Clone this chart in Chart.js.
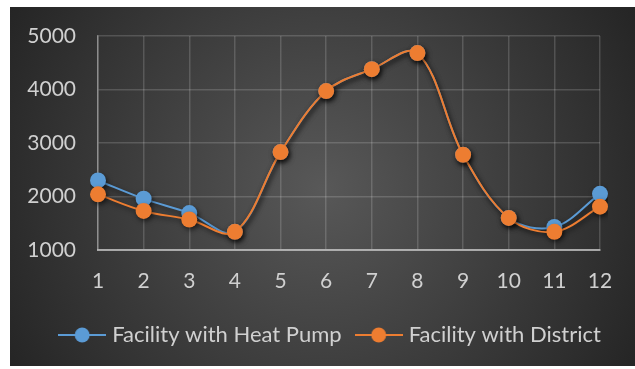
<!DOCTYPE html>
<html>
<head>
<meta charset="utf-8">
<script src="https://cdn.jsdelivr.net/npm/chart.js@4/dist/chart.umd.min.js"></script>
<style>
  html, body { margin: 0; padding: 0; background: #ffffff; }
  #wrap { width: 635px; height: 369px; }
</style>
</head>
<body>
<div id="wrap"><canvas id="chart" width="635" height="369"></canvas></div>
<script>
// Monthly consumption for the two facilities
const months = ['1', '2', '3', '4', '5', '6', '7', '8', '9', '10', '11', '12'];
const heatPump = [2300, 1960, 1690, 1340, 2830, 3970, 4380, 4680, 2780, 1600, 1430, 2050];
const district = [2040, 1730, 1570, 1340, 2830, 3970, 4380, 4680, 2780, 1600, 1340, 1810];
const yTicks = [1000, 2000, 3000, 4000, 5000];
const seriesNames = ['Facility with Heat Pump', 'Facility with District'];
const seriesColors = ['#5B9BD5', '#ED7D31'];

const FONT = { family: 'Lato, "Open Sans", sans-serif', size: 21 };
const LEGEND_FONT = { family: 'Lato, "Open Sans", sans-serif', size: 22 };
const TEXT = '#d0d0d0';

// Legend symbol: short line with a dot on it
function legendIcon(color) {
  const c = document.createElement('canvas');
  c.width = 48; c.height = 18;
  const g = c.getContext('2d');
  g.strokeStyle = color; g.lineWidth = 2;
  g.beginPath(); g.moveTo(0, 9); g.lineTo(48, 9); g.stroke();
  g.fillStyle = color;
  g.beginPath(); g.arc(24, 9, 7.5, 0, Math.PI * 2); g.fill();
  return c;
}
const icons = seriesColors.map(legendIcon);

// Dark panel with a soft radial light in the middle
const panelBackground = {
  id: 'panelBackground',
  beforeDraw(chart) {
    const ctx = chart.ctx;
    ctx.save();
    ctx.fillStyle = '#ffffff';
    ctx.fillRect(0, 0, chart.width, chart.height);
    const g = ctx.createRadialGradient(322, 188, 0, 322, 188, 360);
    g.addColorStop(0, '#585858');
    g.addColorStop(1, '#252525');
    ctx.fillStyle = g;
    ctx.fillRect(10, 7, 625, 359);
    ctx.restore();
  }
};

// Centre the legend under the whole panel rather than the padded box
const legendShift = {
  id: 'legendShift',
  afterLayout(chart) {
    const lg = chart.legend;
    if (lg) { lg.left += 32; lg.right += 32; }
  }
};

// Drop shadow under the series
const seriesShadow = {
  id: 'seriesShadow',
  beforeDatasetDraw(chart) {
    const ctx = chart.ctx;
    ctx.save();
    ctx.shadowColor = 'rgba(0,0,0,0.55)';
    ctx.shadowBlur = 5;
    ctx.shadowOffsetX = 1.5;
    ctx.shadowOffsetY = 2.5;
  },
  afterDatasetDraw(chart) {
    chart.ctx.restore();
  }
};

const series = [heatPump, district];
const datasets = series.map((values, i) => ({
  label: seriesNames[i],
  data: values,
  borderColor: seriesColors[i],
  backgroundColor: seriesColors[i],
  pointBackgroundColor: seriesColors[i],
  pointBorderColor: seriesColors[i],
  borderWidth: 2,
  pointRadius: 8,
  pointBorderWidth: 0,
  tension: 0.35,
  fill: false,
  order: i === 0 ? 1 : 0
}));

new Chart(document.getElementById('chart'), {
  type: 'line',
  data: { labels: months, datasets },
  plugins: [panelBackground, legendShift, seriesShadow],
  options: {
    responsive: false,
    animation: false,
    layout: { padding: { left: 0, right: 35, top: 36, bottom: 13 } },
    scales: {
      x: {
        type: 'category',
        offset: false,
        grid: { color: 'rgba(255,255,255,0.16)', lineWidth: 1.5, drawTicks: false },
        border: { color: 'rgba(200,200,200,0.75)', width: 2 },
        ticks: { color: TEXT, font: FONT, padding: 19, maxRotation: 0, autoSkip: false },
        afterFit(scale) { scale.height = 56; }
      },
      y: {
        min: 1000,
        max: 5000,
        grid: { color: 'rgba(255,255,255,0.16)', lineWidth: 1.5, drawTicks: false },
        border: { color: 'rgba(200,200,200,0.5)', width: 1.5 },
        ticks: { color: TEXT, font: FONT, padding: 22, callback: v => String(v) },
        afterBuildTicks(scale) { scale.ticks = yTicks.map(v => ({ value: v })); },
        afterFit(scale) { scale.width = 98; }
      }
    },
    plugins: {
      tooltip: { enabled: false },
      legend: {
        position: 'bottom',
        labels: {
          color: TEXT,
          font: LEGEND_FONT,
          usePointStyle: true,
          pointStyleWidth: 38,
          boxHeight: 18,
          padding: 18,
          sort: (a, b) => a.datasetIndex - b.datasetIndex,
          generateLabels(chart) {
            const items = Chart.defaults.plugins.legend.labels.generateLabels(chart);
            items.forEach(it => { it.pointStyle = icons[it.datasetIndex]; });
            return items;
          }
        }
      }
    }
  }
});
</script>
</body>
</html>
